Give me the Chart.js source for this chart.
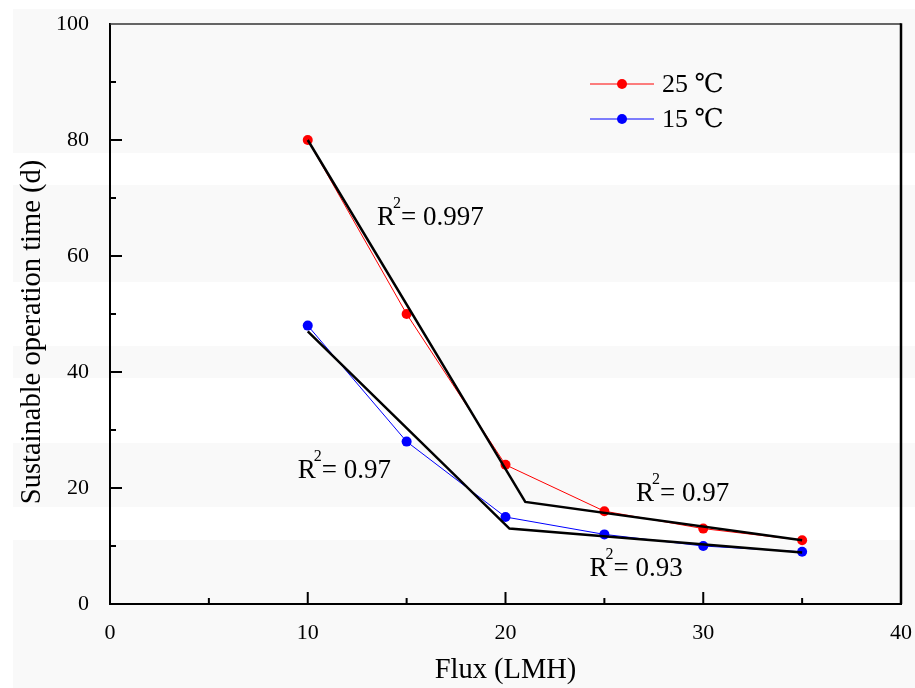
<!DOCTYPE html>
<html>
<head>
<meta charset="utf-8">
<script src="https://cdn.jsdelivr.net/npm/chart.js@4.4.1/dist/chart.umd.min.js"></script>
<style>
    html, body { margin: 0; padding: 0; background: #fff; }
</style>
</head>
<body>
<canvas id="chart" width="915" height="688"></canvas>
<script>
    // values
    var flux = [10, 15, 20, 25, 30, 35];
    var time25 = [80, 50, 24, 16, 13, 11];
    var time15 = [48, 28, 15, 12, 10, 9];
    // piecewise fits (breakpoints)
    var fit25X = [10, 21, 35];
    var fit25Y = [80, 17.6, 11];
    var fit15X = [10, 20.2, 35];
    var fit15Y = [47, 13, 8.9];
    var r2Values = ['0.997', '0.97', '0.97', '0.93'];
    var seriesNames = ['25 \u2103', '15 \u2103'];
    var xTicks = [0, 10, 20, 30, 40];
    var yTicks = [0, 20, 40, 60, 80, 100];

    var SERIF = '"Liberation Serif", "DejaVu Serif", "Times New Roman", serif';

    function toPoints(xs, ys) {
        return xs.map(function (x, i) { return {x: x, y: ys[i]}; });
    }

    // keep tick labels from pushing the plot area around
    function noLabelPadding(scale) {
        scale.paddingTop = 0;
        scale.paddingBottom = 0;
        scale.paddingLeft = 0;
        scale.paddingRight = 0;
    }

    var backgroundPlugin = {
        id: 'paper',
        beforeDraw: function (chart) {
            var ctx = chart.ctx;
            ctx.save();
            ctx.fillStyle = '#ffffff';
            ctx.fillRect(0, 0, chart.width, chart.height);
            ctx.fillStyle = '#f9f9f9';
            ctx.fillRect(13, 9, chart.width - 13, chart.height - 9);
            ctx.fillStyle = '#ffffff';
            [[153, 185], [282, 346], [378, 443], [507, 540]].forEach(function (b) {
                ctx.fillRect(13, b[0], chart.width - 13, b[1] - b[0]);
            });
            ctx.restore();
        }
    };

    var framePlugin = {
        id: 'frame',
        afterDatasetsDraw: function (chart) {
            var ctx = chart.ctx;
            var a = chart.chartArea;
            var xs = chart.scales.x, ys = chart.scales.y;
            ctx.save();
            ctx.strokeStyle = '#333';
            ctx.lineWidth = 1.5;
            ctx.beginPath();
            ctx.moveTo(a.left, a.top);
            ctx.lineTo(a.right, a.top);
            ctx.stroke();
            ctx.strokeStyle = '#000';
            ctx.lineWidth = 2.5;
            ctx.beginPath();
            ctx.moveTo(a.right, a.top - 0.75);
            ctx.lineTo(a.right, a.bottom);
            ctx.stroke();

            // inward ticks
            ctx.lineWidth = 2;
            ctx.beginPath();
            for (var v = 5; v < 40; v += 5) {
                var px = xs.getPixelForValue(v);
                var len = (v % 10 === 0) ? 12 : 6;
                ctx.moveTo(px, a.bottom);
                ctx.lineTo(px, a.bottom - len);
            }
            for (var w = 10; w < 100; w += 10) {
                var py = ys.getPixelForValue(w);
                var l2 = (w % 20 === 0) ? 12 : 6;
                ctx.moveTo(a.left, py);
                ctx.lineTo(a.left + l2, py);
            }
            ctx.stroke();

            // y axis title (sits a bit below the plot centre in the original)
            ctx.save();
            ctx.translate(33, 332);
            ctx.rotate(-Math.PI / 2);
            ctx.fillStyle = '#000';
            ctx.font = '28.5px ' + SERIF;
            ctx.textAlign = 'center';
            ctx.textBaseline = 'middle';
            ctx.fillText('Sustainable operation time (d)', 0, 0);
            ctx.restore();

            // R^2 labels
            var spots = [[13.5, 65.3], [9.5, 21.7], [26.6, 17.8], [24.25, 4.8]];
            ctx.fillStyle = '#000';
            ctx.textBaseline = 'alphabetic';
            ctx.textAlign = 'left';
            spots.forEach(function (s, i) {
                var x0 = xs.getPixelForValue(s[0]);
                var y0 = ys.getPixelForValue(s[1]);
                ctx.font = '27px ' + SERIF;
                ctx.fillText('R', x0, y0);
                var x1 = x0 + ctx.measureText('R').width - 2;
                ctx.font = '16px ' + SERIF;
                ctx.fillText('2', x1, y0 - 17);
                var x2 = x1 + ctx.measureText('2').width;
                ctx.font = '27px ' + SERIF;
                ctx.fillText('= ' + r2Values[i], x2, y0);
            });

            // legend
            var rows = [{c: '#ff0000', y: 84}, {c: '#0000ff', y: 119}];
            rows.forEach(function (r, i) {
                ctx.strokeStyle = r.c;
                ctx.lineWidth = 1;
                ctx.beginPath();
                ctx.moveTo(590, r.y);
                ctx.lineTo(654, r.y);
                ctx.stroke();
                ctx.fillStyle = r.c;
                ctx.beginPath();
                ctx.arc(622, r.y, 5, 0, Math.PI * 2);
                ctx.fill();
                ctx.fillStyle = '#000';
                ctx.font = '26px ' + SERIF;
                ctx.textBaseline = 'middle';
                ctx.fillText(seriesNames[i], 662, r.y + 1);
            });
            ctx.restore();
        }
    };

    var ctx = document.getElementById('chart').getContext('2d');
    var chart = new Chart(ctx, {
        type: 'scatter',
        data: {
            datasets: [{
                label: 'fit 25',
                data: toPoints(fit25X, fit25Y),
                showLine: true,
                borderColor: '#000',
                borderWidth: 2.5,
                pointRadius: 0
            }, {
                label: 'fit 15',
                data: toPoints(fit15X, fit15Y),
                showLine: true,
                borderColor: '#000',
                borderWidth: 2.5,
                pointRadius: 0
            }, {
                label: seriesNames[0],
                data: toPoints(flux, time25),
                showLine: true,
                borderColor: '#ff0000',
                backgroundColor: '#ff0000',
                borderWidth: 1,
                pointRadius: 5,
                pointBorderWidth: 0
            }, {
                label: seriesNames[1],
                data: toPoints(flux, time15),
                showLine: true,
                borderColor: '#0000ff',
                backgroundColor: '#0000ff',
                borderWidth: 1,
                pointRadius: 5,
                pointBorderWidth: 0
            }]
        },
        options: {
            responsive: false,
            animation: false,
            layout: {padding: {top: 24, right: 14, left: 0, bottom: 0}},
            plugins: {
                legend: {display: false},
                tooltip: {enabled: false}
            },
            scales: {
                x: {
                    type: 'linear',
                    min: 0,
                    max: 40,
                    afterFit: function (scale) {
                        scale.height = 84;
                        noLabelPadding(scale);
                    },
                    afterBuildTicks: function (scale) {
                        scale.ticks = xTicks.map(function (v) { return {value: v}; });
                    },
                    grid: {display: false, drawTicks: false},
                    border: {display: true, color: '#000', width: 2},
                    ticks: {
                        color: '#000',
                        padding: 16,
                        maxRotation: 0,
                        autoSkip: false,
                        font: {family: SERIF, size: 22}
                    },
                    title: {
                        display: true,
                        text: 'Flux (LMH)',
                        color: '#000',
                        padding: {top: 0, bottom: 0},
                        font: {family: SERIF, size: 28.5}
                    }
                },
                y: {
                    type: 'linear',
                    min: 0,
                    max: 100,
                    afterFit: function (scale) {
                        scale.width = 110;
                        noLabelPadding(scale);
                    },
                    afterBuildTicks: function (scale) {
                        scale.ticks = yTicks.map(function (v) { return {value: v}; });
                    },
                    grid: {display: false, drawTicks: false},
                    border: {display: true, color: '#000', width: 2},
                    ticks: {
                        color: '#000',
                        padding: 21,
                        autoSkip: false,
                        font: {family: SERIF, size: 22}
                    },
                    title: {display: false}
                }
            }
        },
        plugins: [backgroundPlugin, framePlugin]
    });
</script>
</body>
</html>
